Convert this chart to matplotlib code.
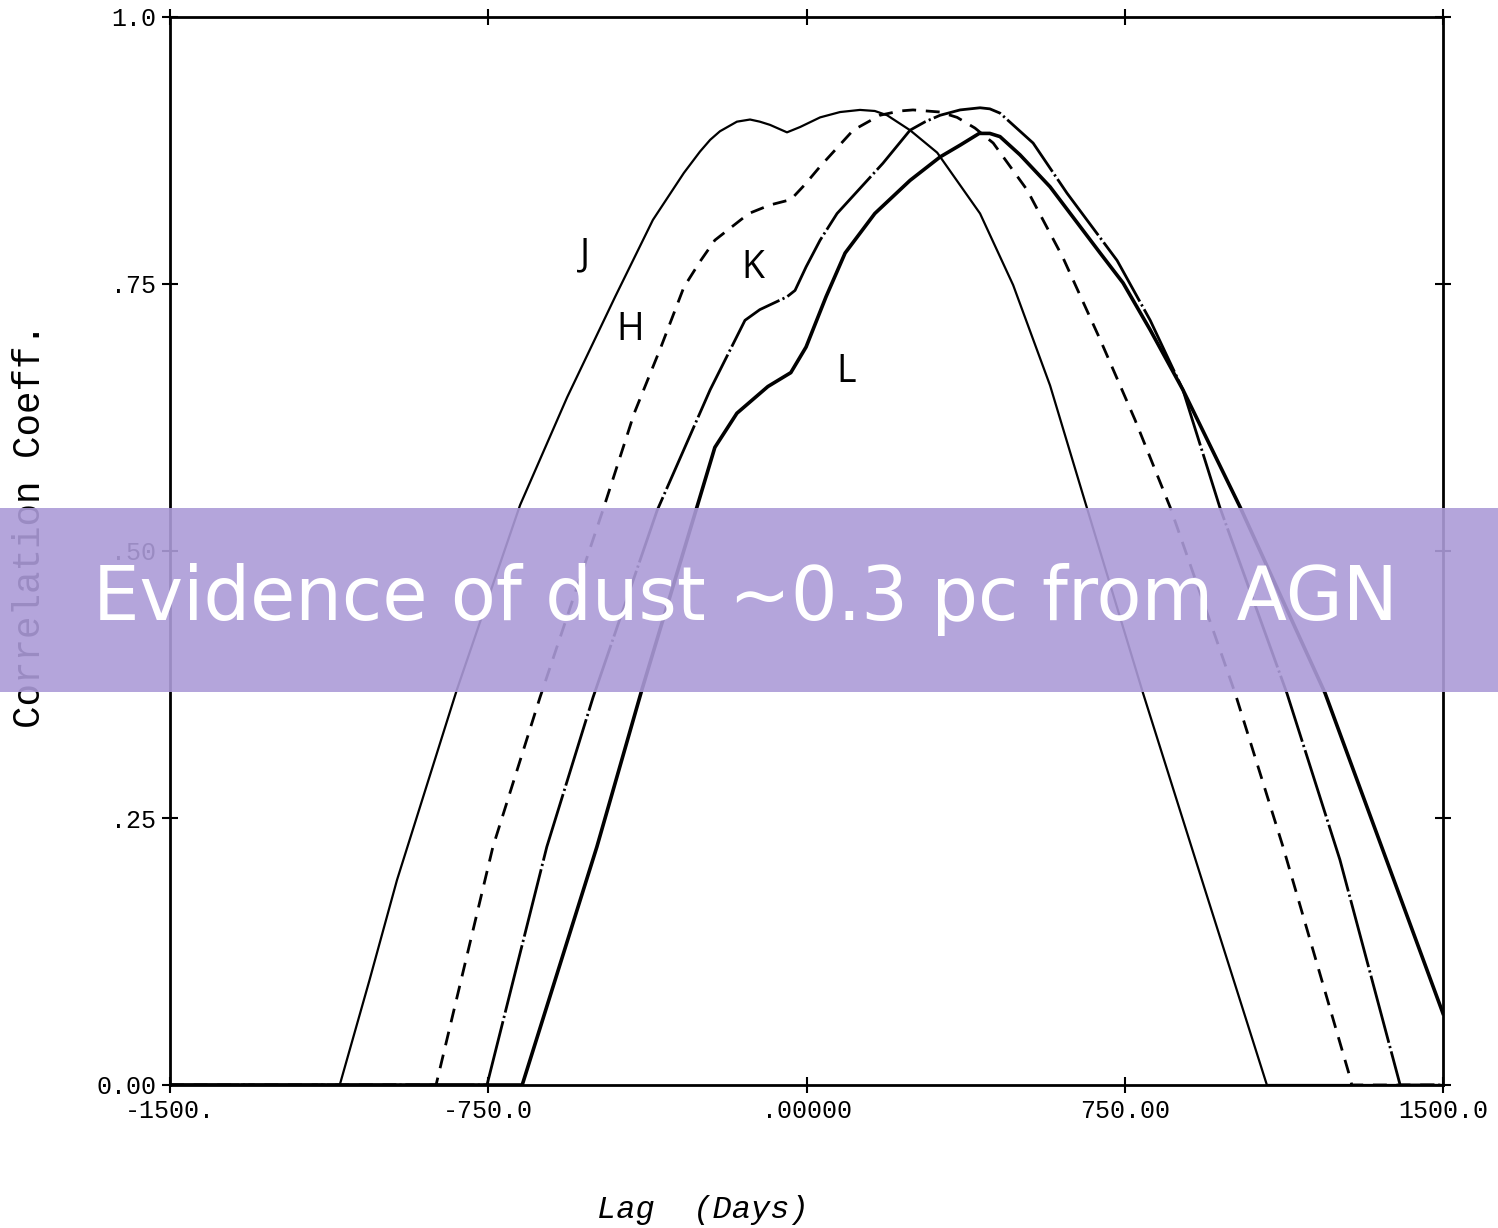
import numpy as np
import matplotlib
matplotlib.use('Agg')
import matplotlib.pyplot as plt
from matplotlib.patches import Rectangle

# cross-correlation of the optical light curve with each near-IR band
lag_j = [-1500, -1100, -1030, -965, -824, -675, -564, -451, -362, -289, -251,
         -227, -204, -164, -133, -110, -86, -46, -15, 32, 79, 126, 161, 190,
         244, 308, 409, 487, 574, 652, 793, 939, 1085, 1500]
cc_j = [0.0, 0.0, 0.098, 0.192, 0.370, 0.543, 0.644, 0.738, 0.810, 0.854,
        0.874, 0.885, 0.893, 0.902, 0.904, 0.902, 0.899, 0.892, 0.897, 0.906,
        0.911, 0.913, 0.912, 0.908, 0.894, 0.873, 0.816, 0.749, 0.655, 0.552,
        0.367, 0.183, 0.0, 0.0]

lag_h = [-1500, -873, -739, -628, -480, -406, -343, -289, -251, -216, -136,
         -86, -37, -4, 32, 110, 173, 220, 251, 315, 355, 397, 440, 520, 604,
         692, 774, 857, 1010, 1123, 1281, 1285, 1500]
cc_h = [0.0, 0.0, 0.223, 0.363, 0.538, 0.629, 0.691, 0.747, 0.771, 0.791,
        0.816, 0.824, 0.829, 0.843, 0.860, 0.894, 0.908, 0.912, 0.913, 0.911,
        0.906, 0.896, 0.882, 0.838, 0.775, 0.698, 0.623, 0.541, 0.367, 0.223,
        0.007, 0.0, 0.0]

lag_k = [-1500, -753, -612, -503, -352, -227, -145, -110, -46, -27, -1, 32,
         72, 180, 244, 280, 315, 362, 409, 432, 456, 534, 614, 732, 810, 887,
         974, 1132, 1257, 1399, 1500]
cc_k = [0.0, 0.0, 0.223, 0.363, 0.538, 0.651, 0.716, 0.726, 0.738, 0.744,
        0.766, 0.791, 0.816, 0.863, 0.894, 0.902, 0.908, 0.913, 0.915, 0.914,
        0.910, 0.882, 0.835, 0.772, 0.716, 0.651, 0.541, 0.367, 0.211, 0.0,
        0.0]

lag_l = [-1500, -670, -494, -388, -253, -216, -164, -91, -37, -1, 46, 91, 161,
         244, 315, 362, 407, 432, 456, 503, 574, 692, 746, 810, 887, 1022,
         1222, 1500]
cc_l = [0.0, 0.0, 0.223, 0.370, 0.548, 0.597, 0.629, 0.654, 0.667, 0.691,
        0.738, 0.779, 0.816, 0.847, 0.869, 0.880, 0.891, 0.891, 0.888, 0.871,
        0.841, 0.779, 0.751, 0.707, 0.651, 0.541, 0.367, 0.067]

band_names = ['J', 'H', 'K', 'L']
label_lag = [-522, -416, -126, 93]
label_cc = [0.777, 0.707, 0.765, 0.668]

xticks = [-1500, -750, 0, 750, 1500]
xtick_labels = ['-1500.', '-750.0', '.00000', '750.00', '1500.0']
yticks = [0.0, 0.25, 0.5, 0.75, 1.0]
ytick_labels = ['0.00', '.25', '.50', '.75', '1.0']

banner = 'Evidence of dust ~0.3 pc from AGN'

mono = 'Liberation Mono'

fig = plt.figure(figsize=(14.98, 12.28), dpi=100)
ax = fig.add_axes([170 / 1498, 143 / 1228, 1273 / 1498, 1068 / 1228])

line_kw = dict(color='black', solid_joinstyle='round', dash_joinstyle='round')
ax.plot(lag_j, cc_j, lw=1.6, **line_kw)
ax.plot(lag_h, cc_h, lw=2.0, linestyle=(0, (5, 3.5)), **line_kw)
ax.plot(lag_k, cc_k, lw=2.0, linestyle=(0, (25, 1.2, 0.8, 1.2)), **line_kw)
ax.plot(lag_l, cc_l, lw=2.6, **line_kw)

for name, lx, ly in zip(band_names, label_lag, label_cc):
    ax.text(lx, ly, name, family='Open Sans', fontsize=27, color='black',
            ha='center', va='center')

ax.set_xlim(-1500, 1500)
ax.set_ylim(0, 1)
ax.set_xticks(xticks)
ax.set_xticklabels(xtick_labels, family=mono, fontsize=18)
ax.set_yticks(yticks)
ax.set_yticklabels(ytick_labels, family=mono, fontsize=18)
ax.tick_params(direction='inout', length=12, width=1.5, pad=4,
               top=True, right=True)
for side in ax.spines.values():
    side.set_linewidth(2)

fig.text(30 / 1498, 1 - 525 / 1228, 'Correlation Coeff.', family=mono,
         fontsize=27, rotation=90, ha='center', va='center')
fig.text(703 / 1498, 1 - 1210 / 1228, 'Lag  (Days)', family=mono,
         style='italic', fontsize=23, ha='center', va='center')

# title banner across the middle of the figure
fig.patches.append(Rectangle((0, 1 - 692 / 1228), 1, 184 / 1228,
                             transform=fig.transFigure,
                             facecolor=(172 / 255, 155 / 255, 216 / 255),
                             alpha=0.9, edgecolor='none', zorder=5))
fig.text(745 / 1498, 1 - 600 / 1228, banner, family='DejaVu Sans',
         fontsize=53, color='white', ha='center', va='center', zorder=6)

fig.savefig('out.png', dpi=100)
